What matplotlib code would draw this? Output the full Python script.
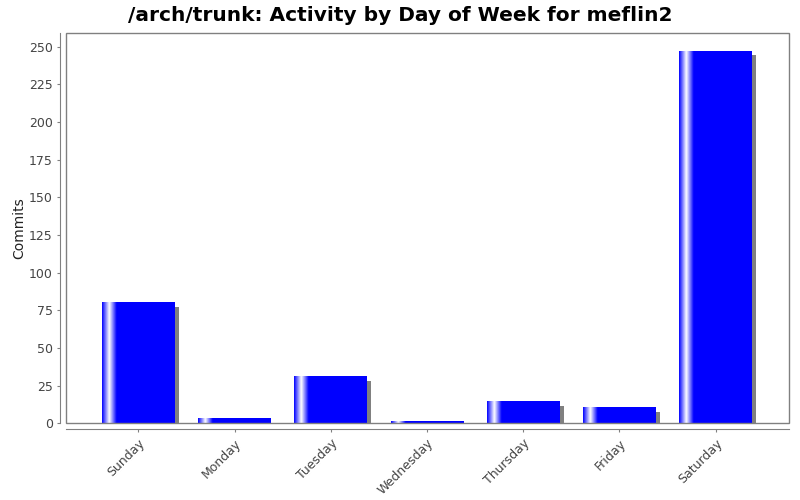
import numpy as np
import matplotlib
matplotlib.use("Agg")
import matplotlib.pyplot as plt
import matplotlib.transforms as mtransforms
from matplotlib.patches import Rectangle

days = ["Sunday", "Monday", "Tuesday", "Wednesday", "Thursday", "Friday", "Saturday"]
commits = [80, 3, 31, 1, 14, 10, 247]
yticks = list(range(0, 251, 25))

title = "/arch/trunk: Activity by Day of Week for meflin2"

fig = plt.figure(figsize=(8, 5), dpi=100)
ax = fig.add_axes([66 / 800, 1 - 423.3 / 500, 723 / 800, 390 / 500])

x = np.arange(len(days))
width = 0.755

# shadow, 4px right and 4px down
shadow_tr = ax.transData + mtransforms.ScaledTranslation(4 / 100, -4 / 100, fig.dpi_scale_trans)
ax.bar(x, commits, width, color="#808080", transform=shadow_tr, zorder=1)
ax.bar(x, commits, width, color="#0000ff", zorder=2)

# left-side highlight like the jfreechart gradient painter (10% / 20%)
n = 300
pos = np.linspace(0, 1, n)
blue = np.array([0.0, 0.0, 1.0])
white = np.array([1.0, 1.0, 1.0])
t = np.zeros(n)
up = pos < 0.10
t[up] = pos[up] / 0.10
down = (pos >= 0.10) & (pos < 0.20)
t[down] = 1 - (pos[down] - 0.10) / 0.10
grad = blue[None, :] * (1 - t[:, None]) + white[None, :] * t[:, None]
grad = grad[None, :, :]
for xi, v in zip(x, commits):
    ax.imshow(grad, extent=(xi - width / 2, xi + width / 2, 0, v), aspect="auto",
              interpolation="bilinear", zorder=3)

ax.set_xlim(-0.752, 6.762)
ax.set_ylim(0, 259)
ax.set_xticks(x)
ax.set_xticklabels(days)
ax.set_yticks(yticks)

for s in ["top", "right"]:
    ax.spines[s].set_visible(False)
for s in ["left", "bottom"]:
    ax.spines[s].set_position(("outward", 4))
    ax.spines[s].set_color("#808080")
ax.add_patch(Rectangle((0, 0), 1, 1, transform=ax.transAxes, fill=False,
                       edgecolor="#808080", linewidth=1, zorder=5, clip_on=False))

ax.tick_params(axis="both", colors="#808080", labelcolor="#444444", labelsize=9, length=2)
for lbl in ax.get_xticklabels():
    lbl.set_rotation(45)
    lbl.set_ha("right")
    lbl.set_rotation_mode("anchor")
ax.set_ylabel("Commits", fontsize=10, color="#222222", labelpad=2)
fig.text(0.5, 0.988, title, fontsize=14.5, fontweight="bold", ha="center", va="top")

fig.savefig("out.png", dpi=100)
